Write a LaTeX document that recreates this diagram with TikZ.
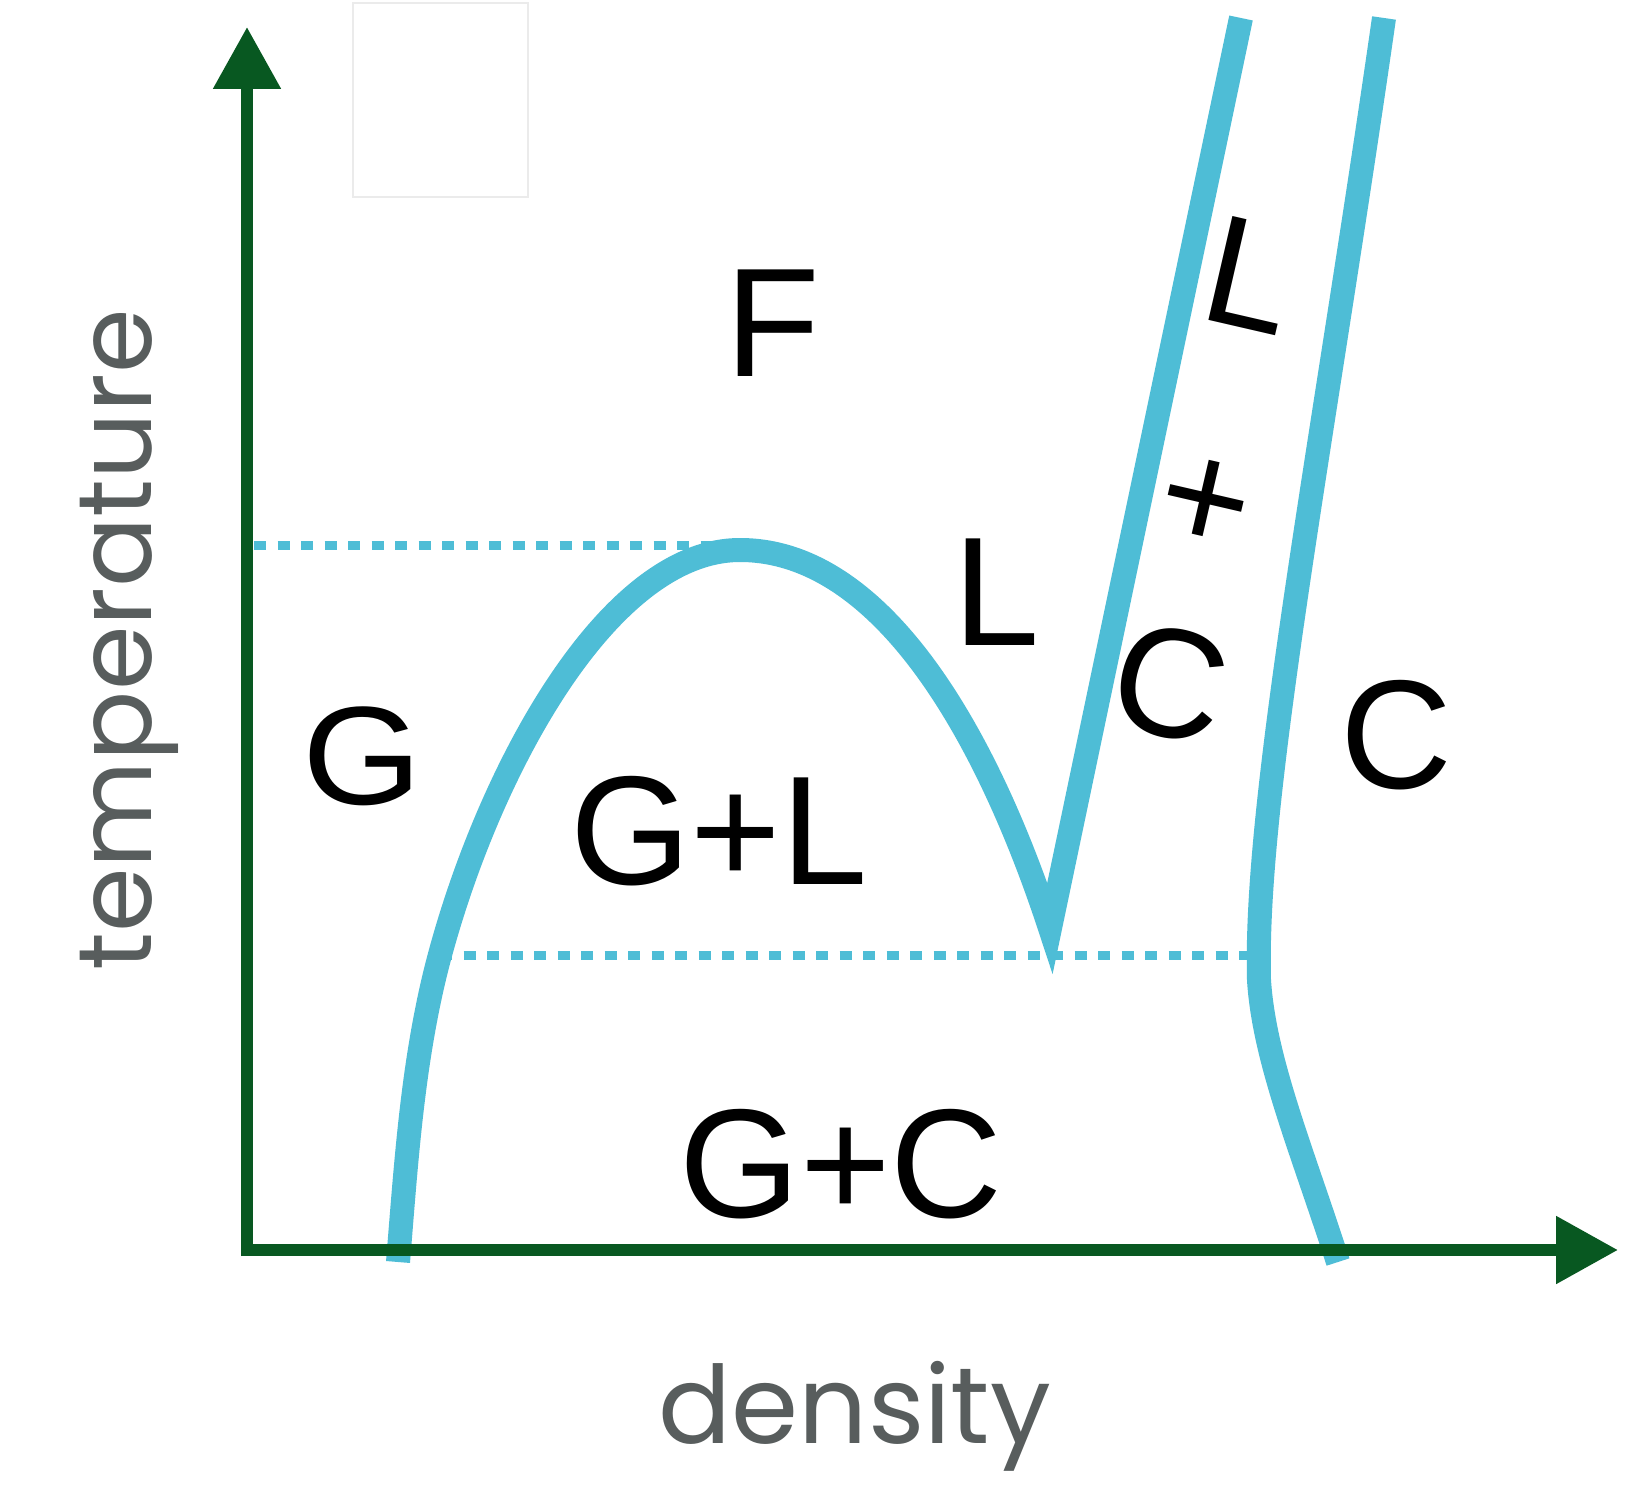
\documentclass[tikz,border=0pt]{standalone}
\usepackage{fontspec}
\setmainfont{Liberation Sans}
\newfontfamily\handfont{Poppins}
\usetikzlibrary{arrows.meta}
\definecolor{phaseblue}{RGB}{78,189,214}
\definecolor{axisgreen}{RGB}{8,88,33}
\definecolor{labelgrey}{RGB}{88,93,93}
\begin{document}
\begin{tikzpicture}[x=1pt,y=-1pt,
  phase/.style={draw=phaseblue,line width=24pt},
  tie/.style={draw=phaseblue,line width=9pt,dash pattern=on 12pt off 11.5pt},
  axis/.style={draw=axisgreen,line width=12pt,-{Triangle[length=62pt,width=65pt]}},
  region/.style={font=\fontsize{155pt}{155pt}\selectfont,inner sep=0pt,text=black},
  axlabel/.style={font=\handfont\fontsize{108pt}{108pt}\selectfont,text=labelgrey,inner sep=0pt}]
\useasboundingbox (0,0) rectangle (1634,1490);
\fill[white] (0,0) rectangle (1634,1490);
\draw[black!8,line width=2pt] (353,3) rectangle (528,197);
% tie lines
\coordinate (t1a) at (254,545);
\coordinate (t1b) at (738,545);
\coordinate (t2a) at (440,955);
\coordinate (t2b) at (1258,955);
\draw[tie] (t1a) -- (t1b);
\draw[tie] (t2a) -- (t2b);
% phase boundaries
\draw[phase,line join=miter] (398,1262)
  .. controls (406,1165) and (412,1067) .. (436,970)
  .. controls (484,780) and (605,550) .. (740,550)
  .. controls (880,550) and (985,730) .. (1050,928) -- (1241,18);
\draw[phase] (1384,18) .. controls (1322,450) and (1254,800) .. (1259,980)
  .. controls (1264,1060) and (1302,1150) .. (1338,1262);
% axes
\coordinate (ybot) at (247,1256);
\coordinate (ytip) at (247,27);
\coordinate (xbeg) at (241,1250);
\coordinate (xtip) at (1618,1250);
\draw[axis] (ybot) -- (ytip);
\draw[axis] (xbeg) -- (xtip);
% region labels
\node[region] (F) at (773,323) {F};
\node[region] (Lmid) at (997,592) {L};
\node[region,font=\fontsize{140pt}{140pt}\selectfont,xscale=1.1] (G) at (362,756) {G};
\node[region] (GL) at (719,831) {G+L};
\node[region] (GC) at (841,1164) {G+C};
\node[region] (Cright) at (1396,735) {C};
\node[region,rotate=-13] (Lband) at (1250,275) {L};
\node[region,rotate=-13] (plus) at (1205,505) {+};
\node[region,rotate=-13] (Cband) at (1170,683) {C};
% axis labels
\node[axlabel,rotate=90,anchor=base,font=\handfont\fontsize{104pt}{104pt}\selectfont] (temp) at (151,640) {temperature};
\node[axlabel,anchor=base] (dens) at (855,1443) {density};
\end{tikzpicture}
\end{document}
